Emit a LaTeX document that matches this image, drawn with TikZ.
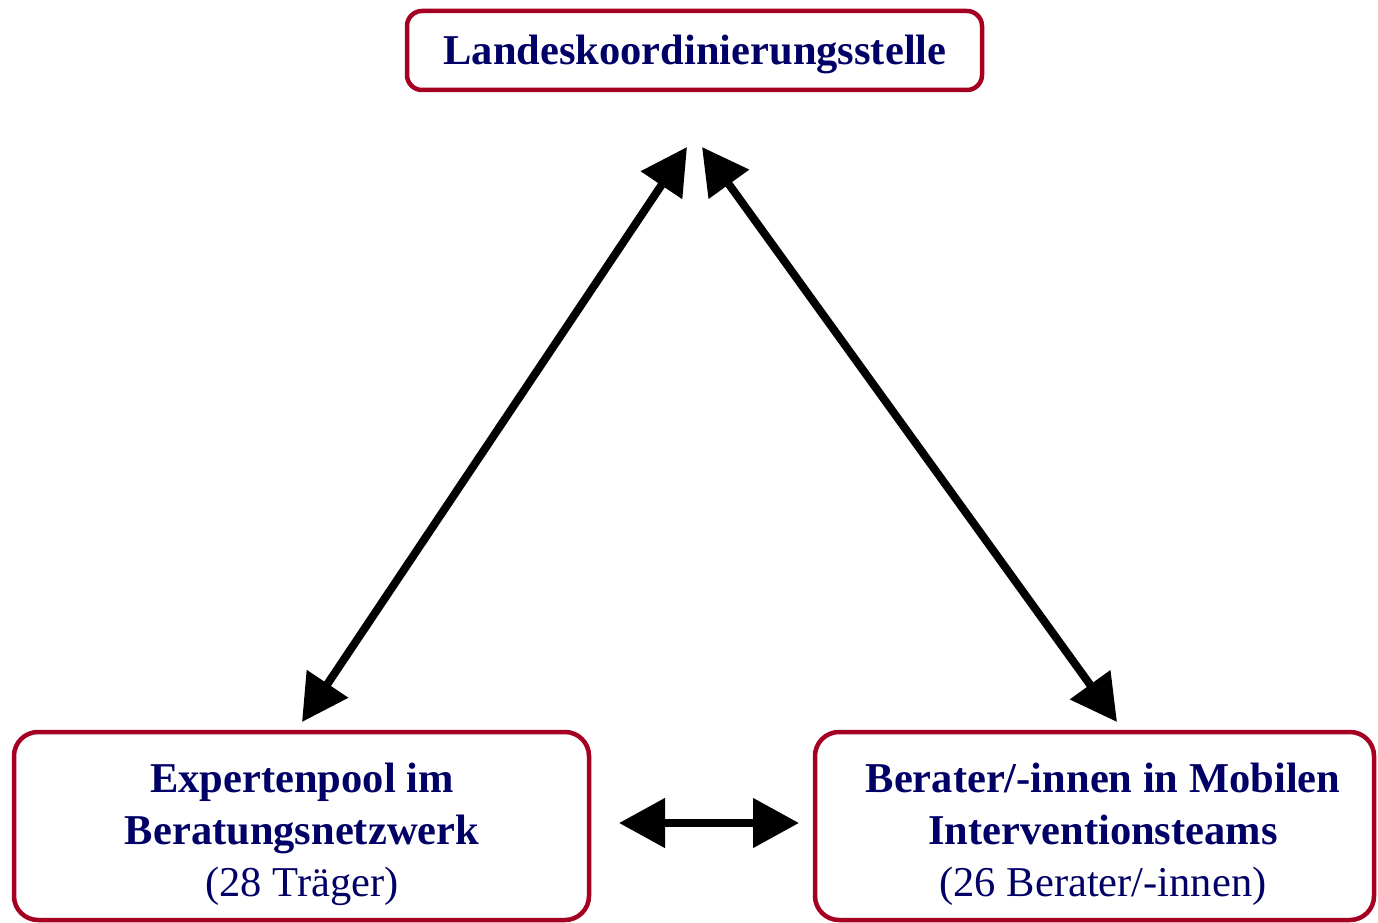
\documentclass[tikz,border=0pt]{standalone}
\usepackage{fontspec}
\setmainfont{Liberation Serif}
\usetikzlibrary{arrows.meta}
\definecolor{boxred}{RGB}{165,0,33}
\definecolor{navy}{RGB}{0,0,102}
\begin{document}
\begin{tikzpicture}[x=1pt,y=-1pt,
  box/.style={draw=boxred,line width=4.5pt,rounded corners=24pt,inner sep=0pt,outer sep=0pt},
  lbl/.style={text=navy,font=\fontsize{42.5}{52}\selectfont,align=center,inner sep=0pt,anchor=base},
  arr/.style={line width=8pt,{Triangle[length=46pt,width=48pt]}-{Triangle[length=46pt,width=48pt]}}]
\useasboundingbox (0,0) rectangle (1378,923);
% boxes
\node[box,rounded corners=15pt,minimum width=575pt,minimum height=79pt] (top) at (694.5,50.5) {};
\node[box,minimum width=575pt,minimum height=188pt] (left) at (301.5,826) {};
\node[box,minimum width=559pt,minimum height=188pt] (right) at (1094.5,826) {};
% texts
\node[lbl] (toptext) at (695,65) {\textbf{Landeskoordinierungsstelle}};
\node[lbl] (lefttext) at (302,896) {\textbf{Expertenpool im}\\\textbf{Beratungsnetzwerk}\\(28 Träger)};
\node[lbl] (righttext) at (1103,896) {\textbf{Berater/-innen in Mobilen}\\\textbf{Interventionsteams}\\(26 Berater/-innen)};
% arrow end points
\coordinate (tl) at (687,147);
\coordinate (tr) at (702,147);
\coordinate (bl) at (302,722);
\coordinate (br) at (1117,722);
\coordinate (hl) at (619,823);
\coordinate (hr) at (799,823);
\draw[arr] (bl) -- (tl);
\draw[arr] (tr) -- (br);
\draw[arr] (hl) -- (hr);
\end{tikzpicture}
\end{document}
